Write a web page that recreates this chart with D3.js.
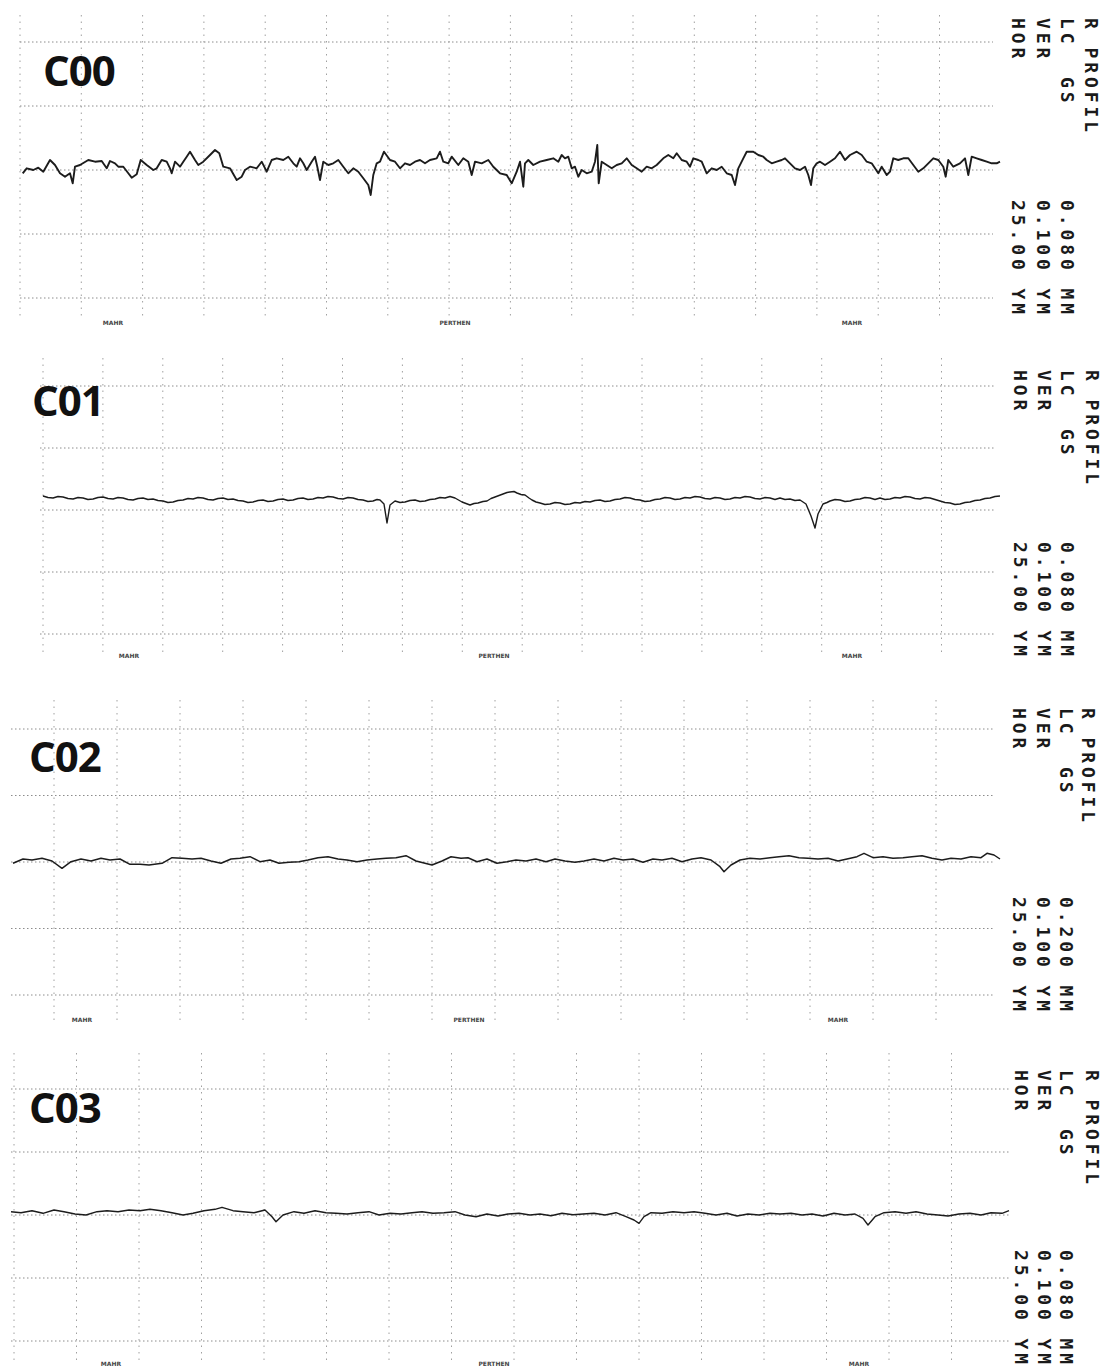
<!DOCTYPE html>
<html>
<head>
<meta charset="utf-8">
<script src="https://cdn.jsdelivr.net/npm/d3@7"></script>
<style>
  body { margin: 0; background: #fff; }
  svg { display: block; }
</style>
</head>
<body>
<script>
(function() {

    var width = 1117;
    var height = 1368;

    //sample names and printer header
    const sampleNames = ["C00", "C01", "C02", "C03"];
    const headerLines = ["R PROFIL", "LC  GS", "VER", "HOR"];
    const cutoffValues = ["0.080 MM", "0.080 MM", "0.200 MM", "0.080 MM"];
    const verValues = ["0.100 YM", "0.100 YM", "0.100 YM", "0.100 YM"];
    const horValues = ["25.00 YM", "25.00 YM", "25.00 YM", "25.00 YM"];
    const footLabels = ["MAHR", "PERTHEN", "MAHR"];
    const gridLevels = [-2, -1, 0, 1, 2];

    //profiles: [position along trace, height]
    const profileC00 = [[2.7,-3.3],[6.7,1.7],[13.3,0],[18.3,2.3],[23.3,-1.7],[30,10],[35,5],[40,-3.3],[45,-6.7],[50,-3.3],[52.7,-13.3],[55,3.3],[60,5],[68.3,10],[75,8.3],[81.7,9],[86.7,1.7],[90,9],[95,6.7],[98.3,3.3],[103.3,3.3],[108.3,-3.3],[111.7,-7.7],[116.7,-4.3],[120.7,10],[126.7,5],[133.3,0],[136.7,1.7],[141.7,10],[146.7,8.3],[150,1.7],[151.7,-3.3],[155,8.3],[160,3.3],[163.3,8.3],[166.7,13.3],[170,18.3],[175,10],[178.3,5],[183.3,8.3],[190,15],[195,20],[199.3,16.7],[203.3,3.3],[210,1.7],[216.7,-10],[221.7,-6.7],[225,0],[230,3.3],[236.7,1.7],[241.7,8.3],[246.7,-1.7],[251.7,10],[256.7,11.7],[263.3,10],[268.3,13.3],[273.3,6.7],[276.7,3.3],[280,11.7],[283.3,6.7],[286.7,0],[291.7,8.3],[295,13.3],[297.3,3.3],[300,-10],[303.3,8.3],[308.3,5],[313.3,6.7],[318.3,10],[323.3,3.3],[328.3,-3.3],[333.3,1.7],[338.3,-1.7],[343.3,-8.3],[348.3,-15],[350.7,-25],[353.3,-5],[356.7,6.7],[360,8.3],[364,18.3],[370,10],[375,8.3],[380,1.7],[385,6.7],[390,5],[395,8.3],[400,10],[405,6.7],[410,10],[416.7,11.7],[420,18.3],[423.3,8.3],[428.3,6.7],[431.7,13.3],[438.3,5],[443.3,11.7],[448.3,8.3],[451.7,-5],[455,8.3],[461.7,6.7],[468.3,10],[473.3,3.3],
        [480,-3.3],[486.7,-5],[491.7,-13.3],[496.7,-1.7],[500,8.3],[503.3,-16.7],[505,6.7],[508.3,10],[513.3,5],[520,8.3],[526.7,10],[533.3,11.7],[538.3,8.3],[541.7,15],[545,11.7],[548.3,13.3],[551.7,1.7],[555,3.3],[558.3,-6.7],[561.7,0],[566.7,-3.3],[571.7,-1.7],[575,8.3],[577.3,25],[578.7,-13.3],[581.7,8.3],[586.7,5],[591.7,1.7],[596.7,5],[601.7,6.7],[606.7,11.7],[611.7,5],[616.7,1.7],[621.7,-1.7],[626.7,3.3],[631.7,1.7],[636.7,5],[643.3,11.7],[648.3,15],[653.3,11.7],[656.7,16.7],[661.7,10],[666.7,8.3],[670,3.3],[673.3,11.7],[678.3,10],[681.7,8.3],[686.7,-3.3],[691.7,1.7],[696.7,0],[701.7,3.3],[706.7,-3.3],[711.7,-5],[715,-15],[718.3,1.7],[723.3,11.7],[726.7,18.3],[733.3,18.3],[738.3,15],[743.3,13.3],[746.7,10],[751.7,6.7],[756.7,8.3],[761.7,10],[765,11.7],[770,6.7],[775,1.7],[780,0],[785,3.3],[788.3,-5],[791,-15],[793.3,1.7],[796.7,6.7],[800,8.3],[805,5],[810,8.3],[815,11.7],[820,18.3],[825,10],[830,15],[836.7,18.3],[841.7,15],[846.7,8.3],[851.7,6.7],[855,1.7],[858.3,-3.3],[861.7,3.3],[866.7,-5],[870,-1.7],[873.3,11.7],[878.3,10],[883.3,11.7],[888.3,11.7],[893.3,5],[898.3,-1.7],[903.3,1.7],[908.3,6.7],[913.3,11.7],[918.3,10],[923.3,3.3],[925.7,-6.7],[928.3,10],[933.3,3.3],[940,6.7],[945,11.7],[948.3,-5],[951.7,13.3],[956.7,11.7],[961.7,10],[966.7,8.3],[971.7,6.7],[976.7,6.7],[980,8.3]];

    const profileC01 = [[0,14],[5,12.5],[10,12],[15,13.5],[20,13],[25,11.5],[30,11],[35,12.5],[40,12],[45,10.5],[50,11],[55,12.5],[60,13],[65,11.5],[70,11],[75,12.5],[80,12],[85,10.5],[90,10],[95,11.5],[100,12],[105,10.5],[110,11],[115,9.5],[120,9],[125,7.5],[130,8],[135,9.5],[140,10],[145,11.5],[150,11],[155,12.5],[160,12],[165,10.5],[170,10],[175,11.5],[180,12],[185,10.5],[190,11],[195,9.5],[200,9],[205,7.5],[210,8],[215,9.5],[220,10],[225,8.5],[230,9],[235,10.5],[240,11],[245,9.5],[250,10],[255,11.5],[260,12],[265,10.5],[270,11],[275,12.5],[280,12],[285,13.5],[290,13],[295,11.5],[300,11],[305,12.5],[310,12],[315,10.5],[320,10],[325,8.5],[330,9],[334,10.5],[337,10],[341,6],[344,-13],[347,5],[352,9],[357,7.5],[362,8],[367,9.5],[372,10],[377,8.5],[382,9],[387,10.5],[392,11],[397,12.5],[402,12],[407,13.5],[412,12],[419,8],[423,6.5],[427,5],[431,6.5],[435,7],[440,8.5],[444,9],[448,11.5],[452,13],[456,14.5],[460,16],[464,17.5],[467,18],[471,18.5],[474,17],[478,15.5],[482,15],[486,12],[489,10],[493,8],[497,7],[502,5.5],[507,6],[512,7.5],[517,7],[522,5.5],[527,6],[532,7.5],[537,7],[542,8.5],[547,8],[552,9.5],[557,10],[562,8.5],[567,9],[572,10.5],[577,11],[582,12.5],[587,12],[592,10.5],[597,10],[602,8.5],[607,9],[612,10.5],[617,11],[622,12.5],[627,12],[632,10.5],[637,11],[642,12.5],[647,12],[652,13.5],[657,13],[662,11.5],[667,11],[672,12.5],[677,12],[682,10.5],[687,11],[692,12.5],[697,12],[702,13.5],[707,13],[712,11.5],[717,11],[722,12.5],[727,12],[732,10.5],[737,12],[742,10.5],[747,11],[752,9.5],[757,10],[763,6],[768,-6],[772,-18],[775,-4],[780,6],[784,7.5],[787,9],[792,10.5],[797,10],[802,8.5],[807,9],[812,10.5],[817,11],[822,12.5],[827,12],[832,10.5],[837,12],[842,10.5],[847,11],[852,12.5],[857,12],[862,13.5],[867,13],[872,11.5],[877,11],[882,12.5],[887,12],[892,10.5],[897,9],[902,7.5],[907,7],[912,5.5],[917,6],[922,7.5],[927,8],[932,9.5],[937,10],[942,11.5],[947,12],[952,13.5],[957,14]];

    const profileC02 = [[2,-1.3],[12,3],[21,2],[31,3.7],[41,1],[51,-6.3],[60,0.3],[70,3],[80,1],[90,3.7],[99,2],[109,3],[119,-2.3],[129,-2.3],[138,-3],[151,-1.3],[161,4.3],[171,3.7],[181,3],[190,3.7],[200,1],[210,-1.3],[220,3],[229,3.7],[239,5.3],[249,0.3],[259,2],[268,-1.3],[278,-0.3],[288,0.3],[297,2],[307,4.3],[317,5.3],[327,3],[336,2],[346,0.3],[356,2],[366,3],[375,3.7],[385,4.3],[395,6.3],[405,1],[414,-1.3],[421,-3],[431,1],[440,5.3],[450,3.7],[457,4.3],[466,0.3],[476,3],[486,-1.3],[496,0.3],[505,2],[515,1],[525,3],[535,0.3],[544,3],[554,1],[564,-0.3],[573,1],[583,3],[593,1],[603,3.7],[612,2],[622,3],[632,-0.3],[642,3],[651,2],[661,3.7],[671,0.3],[681,3],[690,4.3],[700,2],[709,-4.7],[713,-9.7],[720,-3],[729,2],[739,3.7],[749,3],[759,4.3],[768,5.3],[778,6.3],[788,4.3],[797,3.7],[807,3],[817,3.7],[827,1],[836,3],[846,5.3],[853,8.7],[862,4.3],[872,5.3],[882,3.7],[892,4.3],[901,5.3],[911,6.3],[921,3.7],[931,2],[940,3.7],[950,3],[960,5.3],[970,4.3],[976,8.7],[983,7],[989,3]];

    const profileC03 = [[0,3.3],[10,2.3],[21,4.3],[32,1.7],[43,5],[53,3.3],[64,1],[75,0],[86,3.3],[96,4.3],[107,3.3],[118,5],[129,4.3],[139,5.7],[150,4.3],[161,2.3],[172,0],[182,1.7],[193,4.3],[204,5.7],[211,7.7],[222,4.3],[232,3.3],[243,2.3],[254,5],[261,-1.7],[265,-6.7],[272,0],[283,3.3],[293,1.7],[304,4.3],[315,2.3],[325,1.7],[336,1],[347,2.3],[358,3.3],[368,0],[379,1.7],[390,1],[401,2.3],[411,3.3],[422,1.7],[433,2.3],[444,3.3],[454,0],[465,-1.7],[476,1],[487,-1],[497,1],[508,1.7],[519,0],[529,1],[540,-0.7],[551,1.7],[562,0.3],[572,1],[583,1.7],[594,0],[605,2.3],[615,-1.7],[623,-5],[628,-8.3],[633,-1.7],[640,2.3],[651,1.7],[662,3.3],[673,2.3],[683,3.3],[694,1.7],[705,0],[716,1.7],[726,-1],[737,1],[748,0],[759,1.7],[769,1],[780,1.7],[791,0],[801,1],[812,-1],[823,1.7],[834,0],[844,1],[852,-3.3],[857,-10],[864,-1.7],[873,2.3],[884,3.3],[895,1.7],[905,3.3],[916,1],[927,0],[937,-1],[948,1],[959,1.7],[970,0],[980,2.3],[991,1.7],[998,4.3]];

    const profiles = [profileC00, profileC01, profileC02, profileC03];

    //where each strip sits on the page
    const strips = [
        {x0: 20, len: 980, y0: 170, divW: 61.3, divH: 64, vOff: 0, nV: 16, hSpan: [0, 973], vSpan: [155, -150],
         label: [43, 86], textX: [1085, 1061, 1037, 1012], textY: [18, 200], footX: [113, 455, 852], footY: 325, lw: 1.9},
        {x0: 43, len: 957, y0: 510, divW: 59.9, divH: 62, vOff: 0, nV: 16, hSpan: [-3, 952], vSpan: [152, -145],
         label: [32, 416], textX: [1086, 1061, 1038, 1014], textY: [370, 542], footX: [129, 494, 852], footY: 658, lw: 1.4},
        {x0: 11, len: 989, y0: 862, divW: 63, divH: 66.5, vOff: 43, nV: 15, hSpan: [0, 984], vSpan: [162, -161],
         label: [29, 772], textX: [1082, 1060, 1037, 1013], textY: [708, 897], footX: [82, 469, 838], footY: 1022, lw: 1.5},
        {x0: 11, len: 998, y0: 1215, divW: 62.5, divH: 63, vOff: 3, nV: 16, hSpan: [0, 998], vSpan: [162, -150],
         label: [29, 1123], textX: [1086, 1060, 1038, 1015], textY: [1070, 1250], footX: [111, 494, 859], footY: 1366, lw: 1.4}
    ];

    //Create the SVG element
    const svg = d3.select("body")
        .append("svg")
        .attr("width", width)
        .attr("height", height);

    svg.append("rect")
        .attr("width", width)
        .attr("height", height)
        .attr("fill", "#fff");

    strips.forEach(function(s, i) {

        const g = svg.append("g");

        const x = d3.scaleLinear()
            .domain([0, s.len])
            .range([s.x0, s.x0 + s.len]);

        const y = d3.scaleLinear()
            .domain([-200, 200])
            .range([s.y0 + 200, s.y0 - 200]);

        //horizontal dotted grid
        g.selectAll(".hgrid")
            .data(gridLevels)
            .join("line")
            .attr("class", "hgrid")
            .attr("x1", x(s.hSpan[0]))
            .attr("x2", x(s.hSpan[1]))
            .attr("y1", d => y(d * s.divH))
            .attr("y2", d => y(d * s.divH))
            .attr("stroke", "#8c8c8c")
            .attr("stroke-width", 1)
            .attr("stroke-dasharray", "1.5,2.5");

        //vertical dotted grid
        g.selectAll(".vgrid")
            .data(d3.range(s.nV))
            .join("line")
            .attr("class", "vgrid")
            .attr("x1", d => x(s.vOff + d * s.divW))
            .attr("x2", d => x(s.vOff + d * s.divW))
            .attr("y1", y(s.vSpan[0]))
            .attr("y2", y(s.vSpan[1]))
            .attr("stroke", "#a0a0a0")
            .attr("stroke-width", 1)
            .attr("stroke-dasharray", "1.5,5");

        //the measured profile
        const line = d3.line()
            .x(d => x(d[0]))
            .y(d => y(d[1]));

        g.append("path")
            .datum(profiles[i])
            .attr("d", line)
            .attr("fill", "none")
            .attr("stroke", "#1c1c1c")
            .attr("stroke-width", s.lw)
            .attr("stroke-linejoin", "round");

        //sample name
        g.append("text")
            .attr("x", s.label[0])
            .attr("y", s.label[1])
            .attr("font-family", "'Open Sans', sans-serif")
            .attr("font-weight", "bold")
            .attr("font-size", 42)
            .attr("letter-spacing", -1)
            .attr("fill", "#111")
            .text(sampleNames[i]);

        //printer header, turned on its side
        const values = ["", cutoffValues[i], verValues[i], horValues[i]];
        headerLines.forEach(function(t, k) {
            [[t, s.textY[0]], [values[k], s.textY[1]]].forEach(function(p) {
                if (!p[0]) return;
                g.append("text")
                    .attr("transform", "translate(" + s.textX[k] + "," + p[1] + ") rotate(90)")
                    .attr("font-family", "'DejaVu Sans Mono', monospace")
                    .attr("font-weight", "bold")
                    .attr("font-size", 18)
                    .attr("letter-spacing", 3.9)
                    .attr("fill", "#1a1a1a")
                    .style("white-space", "pre")
                    .text(p[0]);
            });
        });

        //small marks printed under the grid
        g.selectAll(".foot")
            .data(footLabels)
            .join("text")
            .attr("class", "foot")
            .attr("x", (d, k) => s.footX[k])
            .attr("y", s.footY)
            .attr("text-anchor", "middle")
            .attr("font-family", "'DejaVu Sans', sans-serif")
            .attr("font-weight", "bold")
            .attr("font-size", 6)
            .attr("fill", "#444")
            .text(d => d);
    });

})();
</script>
</body>
</html>
